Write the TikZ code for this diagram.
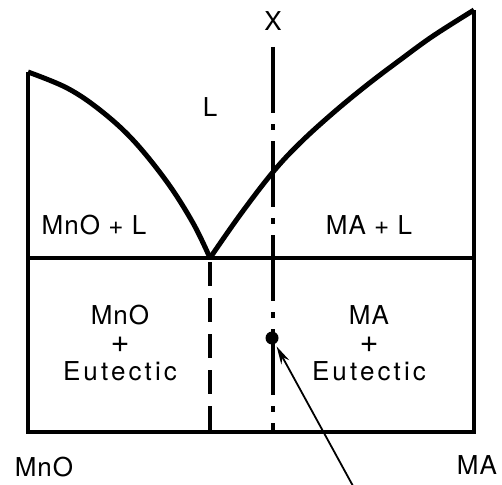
\documentclass[tikz,border=0pt]{standalone}
\usepackage{fontspec}
\setmainfont{TeX Gyre Heros}
\usetikzlibrary{arrows.meta}
\begin{document}
\begin{tikzpicture}[x=1pt,y=-1pt,
  lbl/.style={font=\fontsize{26}{28}\selectfont\addfontfeature{LetterSpace=4}, inner sep=0pt, align=center},
  frameline/.style={line width=3.5pt},
  liquidus/.style={line width=5pt, line join=round},
  eutline/.style={line width=4pt, dash pattern=on 24pt off 12pt},
  compline/.style={line width=3.5pt, dash pattern=on 66pt off 11pt on 6pt off 11pt},
  pointer/.style={line width=1.8pt, -{Stealth[length=18pt,width=9pt]}, shorten >=3pt}
]
\useasboundingbox (0,0) rectangle (502,484);
% key coordinates
\coordinate (bl) at (28,432);
\coordinate (br) at (474,432);
\coordinate (tl) at (28,72);
\coordinate (tr) at (474,10);
\coordinate (el) at (28,258);
\coordinate (er) at (474,258);
\coordinate (eutb) at (210,432);
\coordinate (eutt) at (210,262);
\coordinate (xt) at (273,47);
\coordinate (xb) at (273,432);
\coordinate (arrstart) at (353,486);
% frame
\draw[frameline] (tl) -- (bl) -- (br) -- (tr);
\draw[frameline] (el) -- (er);
% liquidus curves
\draw[liquidus] plot[smooth, tension=0.6] coordinates {(28,72) (67,88) (100,110) (133,140) (167,182) (193,223) (210,258)};
\draw[liquidus] plot[smooth, tension=0.6] coordinates {(210,258) (240,215) (273,172) (300,143) (333,113) (367,85) (400,60) (433,36) (474,10)};
% vertical lines
\draw[eutline] (eutt) -- (eutb);
\draw[compline] (xt) -- (xb);
% point
\node[circle, fill=black, minimum size=13pt, inner sep=0pt] (pt) at (272,338) {};
\draw[pointer] (arrstart) -- (pt);
% labels
\node[lbl] (xlab) at (273,21) {X};
\node[lbl] (llab) at (210,107) {L};
\node[lbl] (mnol) at (94,225) {MnO + L};
\node[lbl] (mal) at (369,225) {MA + L};
\node[lbl] (mnoe) at (120,343) {MnO\\\scalebox{1.25}{+}\\\addfontfeature{LetterSpace=12}Eutectic};
\node[lbl] (mae) at (369,343) {MA\\\scalebox{1.25}{+}\\\addfontfeature{LetterSpace=12}Eutectic};
\node[lbl] (mno) at (44,467) {MnO};
\node[lbl] (ma) at (477,465) {MA};
\end{tikzpicture}
\end{document}
